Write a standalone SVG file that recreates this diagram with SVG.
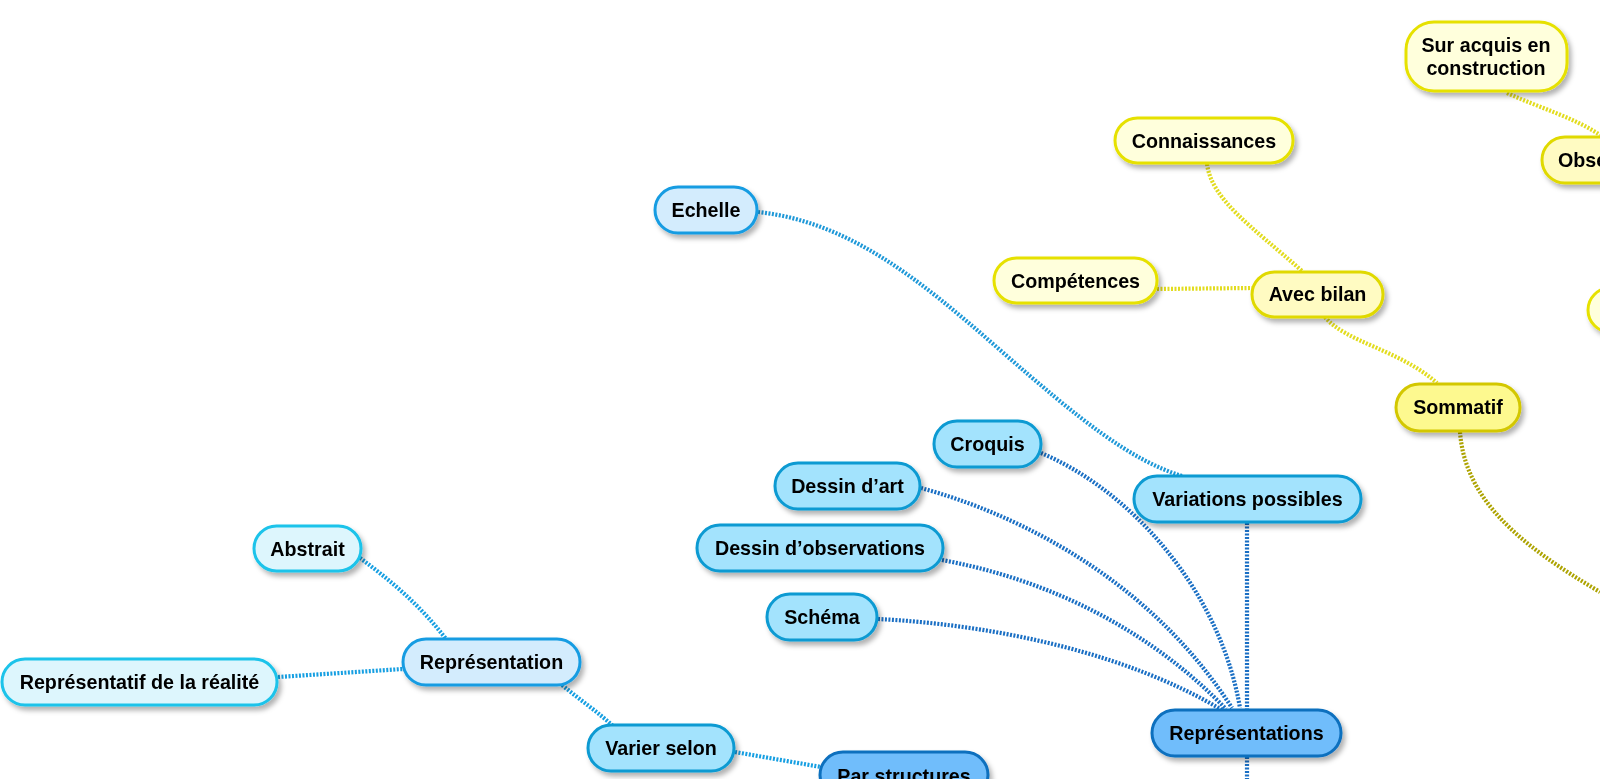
<svg xmlns="http://www.w3.org/2000/svg" width="1600" height="779" viewBox="0 0 1600 779">
<defs>
<filter id="sh" x="-20%" y="-30%" width="150%" height="190%">
<feDropShadow dx="3" dy="4" stdDeviation="2.5" flood-color="#000" flood-opacity="0.3"/>
</filter>
<style>
text{font-family:"Liberation Sans",Arial,sans-serif;font-weight:bold;font-size:19.7px;fill:#000;text-anchor:middle}
.c{fill:none;stroke-width:4.2;stroke-dasharray:2 1.5}
.cy{stroke:#e2dc1e}
.cyd{stroke:#ada300}
.cb1{stroke:#1e98d8}
.cb2{stroke:#1a6fc4}
.cb3{stroke:#169fe2}
.n rect{stroke-width:3}
.y1 rect{fill:#ffffdc;stroke:#e6e100}
.y2 rect{fill:#fffbc2;stroke:#e0d900}
.y3 rect{fill:#fdf98f;stroke:#d3c700}
.b1 rect{fill:#d3ecfd;stroke:#159ce2}
.b2 rect{fill:#a3e3fd;stroke:#0a9ad2}
.b3 rect{fill:#70bdfb;stroke:#0d6fbe}
.b4 rect{fill:#ddf6fd;stroke:#1ac3ea}
</style>
</defs>
<rect width="1600" height="779" fill="#fff"/>
<g id="connectors">
<path class="c cy" d="M1507,93 C1540,108 1575,118 1600,135"/>
<path class="c cy" d="M1207,164 C1212,200 1250,225 1302,271"/>
<path class="c cy" d="M1157,289 L1252,288"/>
<path class="c cy" d="M1325,317 C1345,342 1400,350 1437,383"/>
<path class="c cyd" d="M1460,432 C1465,500 1520,545 1600,592"/>
<path class="c cb1" d="M758,212 C850,222 920,280 1000,350 C1080,420 1130,460 1182,476"/>
<path class="c cb2" d="M1041,453 C1130,490 1220,590 1240,708"/>
<path class="c cb2" d="M921,488 C1020,515 1150,580 1232,708"/>
<path class="c cb2" d="M942,560 C1050,580 1150,630 1226,709"/>
<path class="c cb2" d="M878,619 C1000,625 1130,655 1222,710"/>
<path class="c cb2" d="M1247,523 L1247,710"/>
<path class="c cb2" d="M1247,757 L1247,779"/>
<path class="c cb3" d="M360,558 C390,580 420,605 446,639"/>
<path class="c cb3" d="M278,677 L403,669"/>
<path class="c cb3" d="M562,685 C580,700 598,712 613,726"/>
<path class="c cb3" d="M735,752 L821,767"/>
</g>
<g id="n-sur" class="n y1" filter="url(#sh)"><rect x="1406" y="22" width="161" height="69" rx="28"/><text x="1486" y="52">Sur acquis en</text><text x="1486" y="75">construction</text></g>
<g id="n-obs" class="n y2" filter="url(#sh)"><rect x="1542" y="137" width="140" height="46" rx="23"/><text x="1558" y="167" style="text-anchor:start">Observation</text></g>
<g id="n-right" class="n y1" filter="url(#sh)"><rect x="1588" y="288" width="120" height="44" rx="22"/></g>
<g id="n-conn" class="n y1" filter="url(#sh)"><rect x="1115" y="118" width="178" height="45" rx="22.5"/><text x="1204" y="148">Connaissances</text></g>
<g id="n-comp" class="n y1" filter="url(#sh)"><rect x="994" y="258" width="163" height="45" rx="22.5"/><text x="1075.5" y="288">Compétences</text></g>
<g id="n-avec" class="n y2" filter="url(#sh)"><rect x="1252" y="272" width="131" height="45" rx="22.5"/><text x="1317.5" y="301">Avec bilan</text></g>
<g id="n-somm" class="n y3" filter="url(#sh)"><rect x="1396" y="384" width="124" height="47" rx="23.5"/><text x="1458" y="414">Sommatif</text></g>
<g id="n-echelle" class="n b1" filter="url(#sh)"><rect x="655" y="187" width="102" height="46" rx="23"/><text x="706" y="217">Echelle</text></g>
<g id="n-croquis" class="n b2" filter="url(#sh)"><rect x="934" y="421" width="107" height="46" rx="23"/><text x="987.5" y="451">Croquis</text></g>
<g id="n-dart" class="n b2" filter="url(#sh)"><rect x="775" y="463" width="145" height="46" rx="23"/><text x="847.5" y="493">Dessin d’art</text></g>
<g id="n-dobs" class="n b2" filter="url(#sh)"><rect x="697" y="525" width="246" height="46" rx="23"/><text x="820" y="555">Dessin d’observations</text></g>
<g id="n-schema" class="n b2" filter="url(#sh)"><rect x="767" y="594" width="110" height="46" rx="23"/><text x="822" y="624">Schéma</text></g>
<g id="n-varpos" class="n b2" filter="url(#sh)"><rect x="1134" y="476" width="227" height="46" rx="23"/><text x="1247.5" y="506">Variations possibles</text></g>
<g id="n-reps" class="n b3" filter="url(#sh)"><rect x="1152" y="710" width="189" height="46" rx="23"/><text x="1246.5" y="740">Représentations</text></g>
<g id="n-abstrait" class="n b4" filter="url(#sh)"><rect x="254" y="526" width="107" height="45" rx="22.5"/><text x="307.5" y="556">Abstrait</text></g>
<g id="n-reel" class="n b4" filter="url(#sh)"><rect x="2" y="659" width="275" height="46" rx="23"/><text x="139.5" y="689">Représentatif de la réalité</text></g>
<g id="n-repr" class="n b1" filter="url(#sh)"><rect x="403" y="639" width="177" height="46" rx="23"/><text x="491.5" y="669">Représentation</text></g>
<g id="n-varier" class="n b2" filter="url(#sh)"><rect x="588" y="725" width="146" height="46" rx="23"/><text x="661" y="755">Varier selon</text></g>
<g id="n-parstr" class="n b3" filter="url(#sh)"><rect x="820" y="752" width="168" height="46" rx="23"/><text x="904" y="783">Par structures</text></g>
</svg>
